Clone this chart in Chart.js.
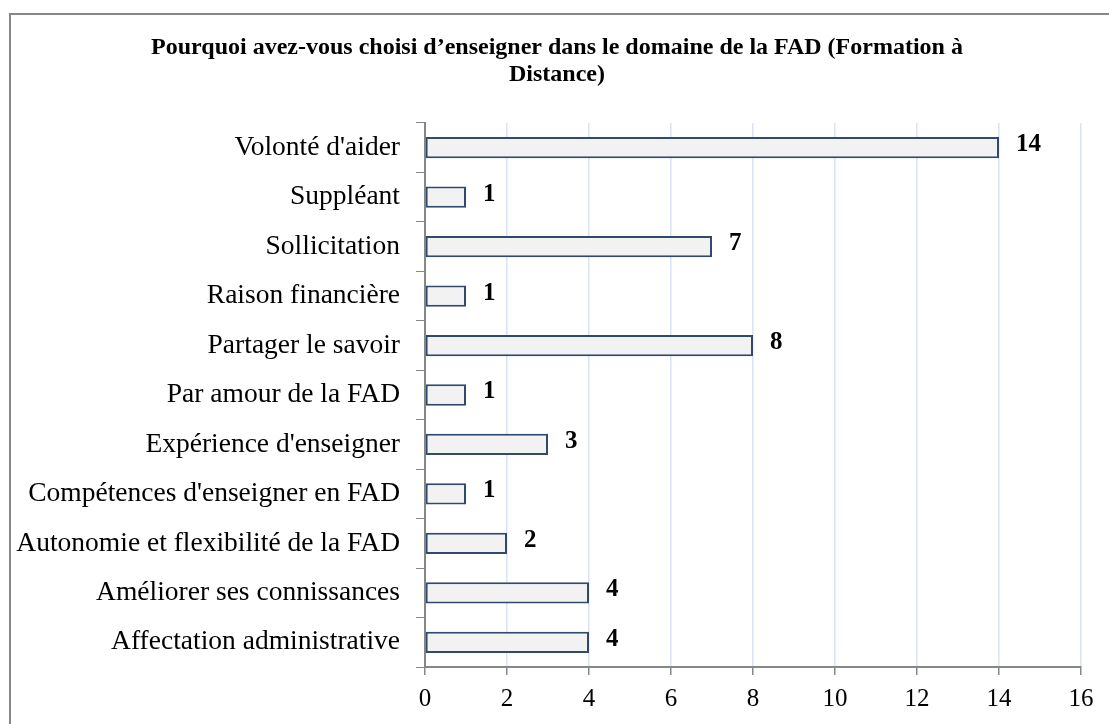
<!DOCTYPE html>
<html>
<head>
<meta charset="utf-8">
<script src="https://cdn.jsdelivr.net/npm/chart.js@4"></script>
<style>
  html, body { margin:0; padding:0; background:#fff; }
  #wrap { position:relative; width:1109px; height:724px; overflow:hidden; }
  #frame { position:absolute; left:9px; top:13px; width:1200px; height:800px;
           border-top:2px solid #878787; border-left:2px solid #878787; pointer-events:none; }
  canvas { position:absolute; left:0; top:0; }
</style>
</head>
<body>
<div id="wrap">
  <canvas id="c" width="1109" height="724"></canvas>
  <div id="frame"></div>
</div>
<script>
const titleLines = ['Pourquoi avez-vous choisi d’enseigner dans le domaine de la FAD (Formation à', 'Distance)'];
const categories = [
  "Volonté d'aider",
  "Suppléant",
  "Sollicitation",
  "Raison financière",
  "Partager le savoir",
  "Par amour de la FAD",
  "Expérience d'enseigner",
  "Compétences d'enseigner en FAD",
  "Autonomie et flexibilité de la FAD",
  "Améliorer ses connissances",
  "Affectation administrative"
];
const values = [14, 1, 7, 1, 8, 1, 3, 1, 2, 4, 4];
const xMin = 0, xMax = 16, xStep = 2;

const serif = '"Liberation Serif", "Times New Roman", serif';

const titleDraw = {
  id: 'titleDraw',
  afterDraw(chart) {
    const ctx = chart.ctx;
    ctx.save();
    ctx.font = 'bold 24px ' + serif;
    ctx.fillStyle = '#000';
    ctx.textAlign = 'center';
    ctx.textBaseline = 'middle';
    titleLines.forEach((t, i) => ctx.fillText(t, 557, 48 + i * 27));
    ctx.restore();
  }
};

const valueLabels = {
  id: 'valueLabels',
  afterDatasetsDraw(chart) {
    const ctx = chart.ctx;
    const meta = chart.getDatasetMeta(0);
    ctx.save();
    ctx.font = 'bold 25px ' + serif;
    ctx.fillStyle = '#000';
    ctx.textAlign = 'left';
    ctx.textBaseline = 'middle';
    meta.data.forEach((bar, i) => {
      ctx.fillText(String(values[i]), bar.x + 17, bar.y - 3);
    });
    ctx.restore();
  }
};

new Chart(document.getElementById('c'), {
  type: 'bar',
  data: {
    labels: categories,
    datasets: [{
      data: values,
      backgroundColor: '#f2f2f2',
      borderColor: '#2f4a6c',
      borderWidth: 2,
      borderSkipped: false,
      barPercentage: 0.43,
      categoryPercentage: 1
    }]
  },
  options: {
    indexAxis: 'y',
    responsive: false,
    animation: false,
    devicePixelRatio: 1,
    layout: { padding: { left: 0, right: 28, top: 123, bottom: 0 } },
    plugins: {
      legend: { display: false },
      tooltip: { enabled: false },
      title: { display: false }
    },
    scales: {
      x: {
        min: xMin, max: xMax,
        ticks: { stepSize: xStep, color: '#000', padding: 9,
                 font: { family: serif, size: 25 } },
        grid: { color: '#dae3f3', lineWidth: 1.5, tickColor: '#878787', tickLength: 8, drawOnChartArea: true },
        border: { color: '#878787', width: 2 },
        afterFit(scale) { scale.height = 57; }
      },
      y: {
        ticks: { color: '#000', padding: 16, autoSkip: false,
                 font: { family: serif, size: 27.5 } },
        grid: { drawOnChartArea: false, tickColor: '#878787', tickLength: 9, offset: true },
        border: { color: '#878787', width: 2 },
        afterFit(scale) { scale.width = 425; }
      }
    }
  },
  plugins: [valueLabels, titleDraw]
});
</script>
</body>
</html>
